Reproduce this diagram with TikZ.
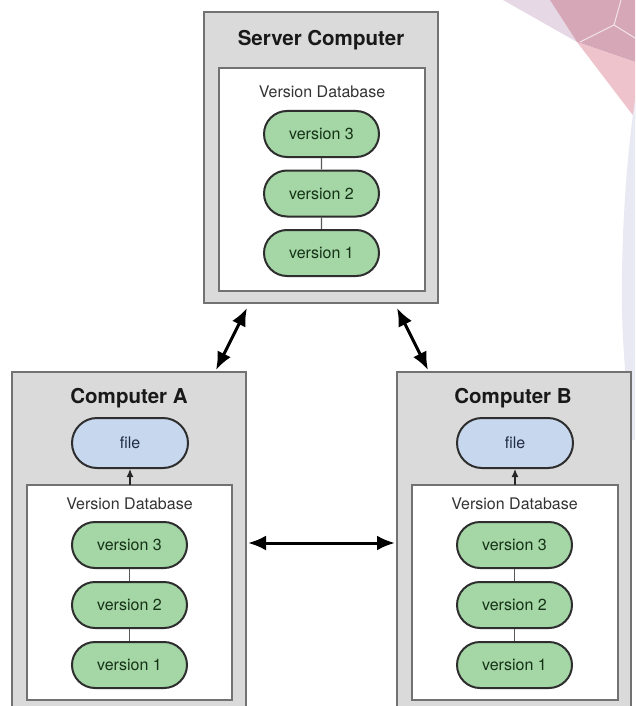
\documentclass[tikz,border=0pt]{standalone}
\usepackage{fontspec}
\setmainfont{TeX Gyre Heros}
\usetikzlibrary{shapes.misc,arrows.meta,calc}

\definecolor{boxgray}{HTML}{DADADA}
\definecolor{boxedge}{HTML}{727272}
\definecolor{pillgreen}{HTML}{A4D6A6}
\definecolor{pilltext}{HTML}{163216}
\definecolor{pillblue}{HTML}{C6D7EE}
\definecolor{filetext}{HTML}{222C44}
\definecolor{pilledge}{HTML}{2E2E2E}
\definecolor{lavlight}{HTML}{E6D8E4}
\definecolor{pinkdark}{HTML}{D6A7B7}
\definecolor{pinklight}{HTML}{EEC3CB}
\definecolor{lavstrip}{HTML}{E9E9F4}

\tikzset{
  machine/.style={draw=boxedge, fill=boxgray, line width=2pt, rectangle,
    inner sep=0pt, outer sep=0pt, anchor=north west},
  database/.style={draw=boxedge, fill=white, line width=2pt, rectangle,
    inner sep=0pt, outer sep=0pt, anchor=north west},
  title/.style={font=\bfseries\fontsize{20.5}{24}\selectfont, text=black!90},
  dblabel/.style={font=\fontsize{16}{19}\selectfont, text=black!80},
  pill/.style={rounded rectangle, draw=pilledge, line width=2pt,
    minimum width=115pt, minimum height=46pt, inner sep=0pt,
    font=\fontsize{16}{19}\selectfont},
  version/.style={pill, fill=pillgreen, text=pilltext},
  wfile/.style={pill, fill=pillblue, text=filetext, minimum width=116pt, minimum height=50pt},
  chain/.style={draw=black!65, line width=1.3pt},
  bighead/.tip={Latex[length=18pt,width=15pt]},
  sync/.style={draw=black, line width=3pt, bighead-bighead},
  checkout/.style={draw=black!85, line width=1.3pt, -{Latex[length=8pt,width=7pt]}}
}

\begin{document}
\begin{tikzpicture}[x=1pt,y=-1pt]
\useasboundingbox (0,0) rectangle (635,706);
\clip (0,0) rectangle (635,706);
\fill[white] (0,0) rectangle (635,706);

% corner ornament
\fill[lavlight] (503,0) -- (550,0) -- (577,42) -- cycle;
\fill[pinkdark] (550,0) -- (635,0) -- (635,62) -- (577,42) -- cycle;
\fill[pinklight] (577,42) -- (635,62) -- (635,118) -- cycle;
\draw[white!70!pinkdark, line width=1pt] (580,42) -- (614,25) -- (621,0) (614,25) -- (635,38);
\fill[lavstrip] (635,100) .. controls (626,160) and (621,240) .. (622,310)
  .. controls (623,360) and (628,400) .. (632,440) -- (635,440) -- cycle;

% server
\node[machine, minimum width=234pt, minimum height=291pt] (srv) at (204,12) {};
\node[title] (srvtitle) at (321,40) {Server Computer};
\node[database, minimum width=206pt, minimum height=223pt] (srvdb) at (219,68) {};
\node[dblabel] (srvdblabel) at (322,92) {Version Database};
\node[version] (s3) at (321.5,134) {version 3};
\node[version] (s2) at (321.5,193.5) {version 2};
\node[version] (s1) at (321.5,253) {version 1};
\draw[chain] (s3) -- (s2);
\draw[chain] (s2) -- (s1);

% computer A
\node[machine, minimum width=234pt, minimum height=350pt] (ca) at (12,372) {};
\node[title] (catitle) at (129,398) {Computer A};
\node[wfile] (afile) at (130,443) {file};
\node[database, minimum width=205pt, minimum height=215pt] (adb) at (27,485) {};
\node[dblabel] (adblabel) at (129.5,504) {Version Database};
\node[version] (a3) at (129.5,545) {version 3};
\node[version] (a2) at (129.5,605) {version 2};
\node[version] (a1) at (129.5,665) {version 1};
\draw[chain] (a3) -- (a2);
\draw[chain] (a2) -- (a1);
\draw[checkout] (adb.north -| afile) -- (afile);

% computer B
\node[machine, minimum width=234pt, minimum height=350pt] (cb) at (397,372) {};
\node[title] (cbtitle) at (513,398) {Computer B};
\node[wfile] (bfile) at (515,443) {file};
\node[database, minimum width=206pt, minimum height=215pt] (bdb) at (412,485) {};
\node[dblabel] (bdblabel) at (514.5,504) {Version Database};
\node[version] (b3) at (514.5,545) {version 3};
\node[version] (b2) at (514.5,605) {version 2};
\node[version] (b1) at (514.5,665) {version 1};
\draw[chain] (b3) -- (b2);
\draw[chain] (b2) -- (b1);
\draw[checkout] (bdb.north -| bfile) -- (bfile);

% synchronisation arrows
\draw[sync] ([xshift=43pt,yshift=-5pt]srv.south west) -- ([xshift=204pt,yshift=2pt]ca.north west);
\draw[sync] ([xshift=-41pt,yshift=-5pt]srv.south east) -- ([xshift=31pt,yshift=2pt]cb.north west);
\draw[sync] ([xshift=2pt,yshift=-171pt]ca.north east) -- ([xshift=-2pt,yshift=-171pt]cb.north west);
\end{tikzpicture}
\end{document}
